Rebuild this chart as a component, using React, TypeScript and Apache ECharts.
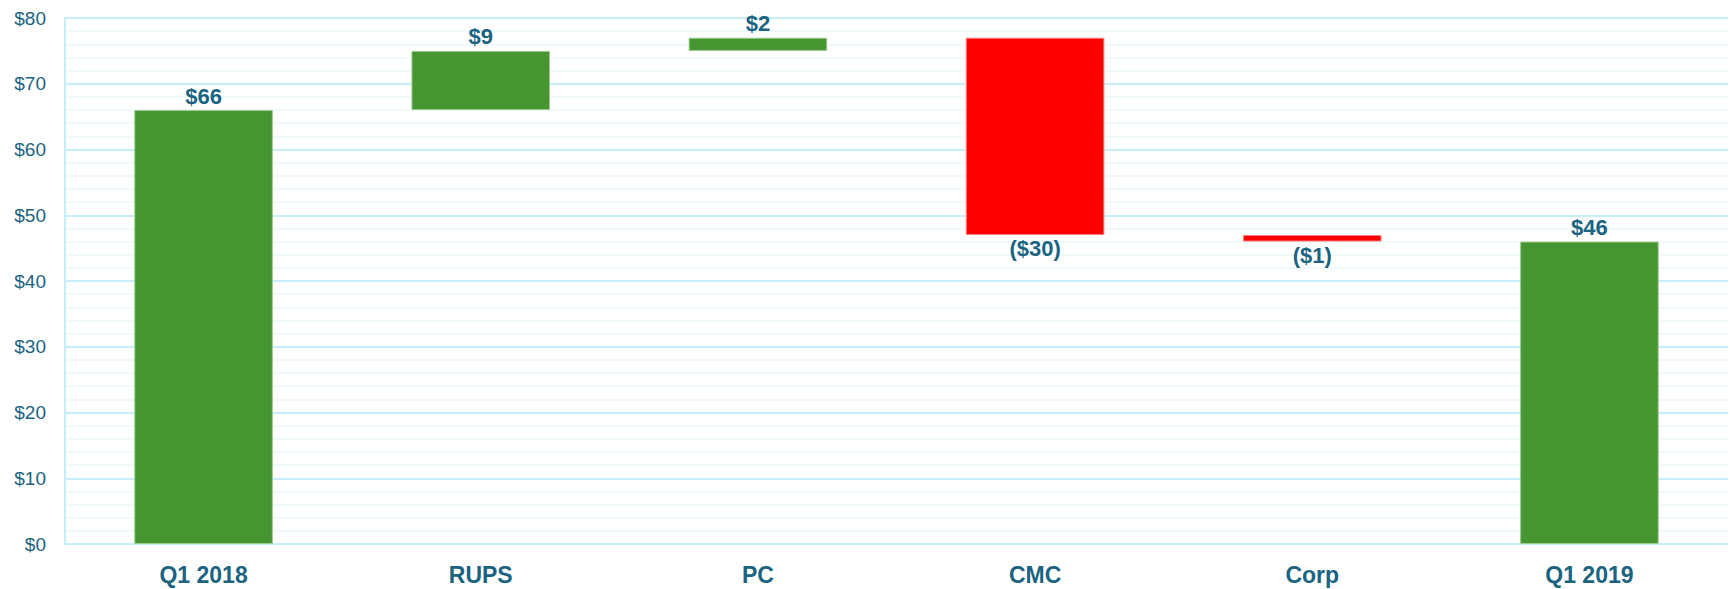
import React, { useEffect, useRef } from "react";
import * as echarts from "echarts";

const categories = ["Q1 2018", "RUPS", "PC", "CMC", "Corp", "Q1 2019"];
const deltas = [66, 9, 2, -30, -1, 46];
const isTotal = [true, false, false, false, false, true];
const yTicks = { min: 0, max: 80, interval: 10 };

const GREEN = "#459530";
const RED = "#ff0000";
const TEXT = "#1a6381";
const GRID_MAJOR = "#c6edfa";
const GRID_MINOR = "#f0f8fb";
const FONT = "Liberation Sans, Arial, sans-serif";

export default function App() {
  const ref = useRef<HTMLDivElement>(null);
  useEffect(() => {
    if (!ref.current) return;
    const chart = echarts.init(ref.current, null, { renderer: "svg" });
    let running = 0;
    const base: number[] = [];
    const heights: number[] = [];
    deltas.forEach((d, i) => {
      if (isTotal[i]) {
        base.push(0);
        heights.push(d);
        running = d;
      } else if (d >= 0) {
        base.push(running);
        heights.push(d);
        running += d;
      } else {
        base.push(running + d);
        heights.push(-d);
        running += d;
      }
    });
    const fmt = (v: number) => (v < 0 ? `($${Math.abs(v)})` : `$${v}`);
    chart.setOption({
      animation: false,
      grid: { left: 65, right: 2, top: 18, bottom: 45, containLabel: false },
      xAxis: {
        type: "category",
        data: categories,
        axisLine: { show: true, lineStyle: { color: GRID_MAJOR, width: 2 } },
        axisTick: { show: false },
        axisLabel: {
          color: TEXT,
          fontSize: 23,
          fontWeight: "bold",
          fontFamily: FONT,
          margin: 19,
        },
      },
      yAxis: {
        type: "value",
        min: yTicks.min,
        max: yTicks.max,
        interval: yTicks.interval,
        axisLine: { show: true, lineStyle: { color: GRID_MAJOR, width: 2 } },
        axisTick: { show: false },
        axisLabel: {
          color: TEXT,
          fontSize: 19,
          fontFamily: FONT,
          margin: 19,
          formatter: (v: number) => `$${v}`,
        },
        splitLine: { show: true, lineStyle: { color: GRID_MAJOR, width: 2 } },
        minorTick: { show: false, splitNumber: 5 },
        minorSplitLine: { show: true, lineStyle: { color: GRID_MINOR, width: 2 } },
      },
      series: [
        {
          type: "bar",
          stack: "wf",
          data: base,
          barWidth: "50%",
          itemStyle: { color: "transparent" },
          silent: true,
        },
        {
          type: "bar",
          stack: "wf",
          barWidth: "50%",
          data: heights.map((h, i) => ({
            value: h,
            itemStyle: {
              color: deltas[i] < 0 ? RED : GREEN,
              borderColor: deltas[i] < 0 ? "#ff8080" : "#9cc98f",
              borderWidth: 1,
            },
            label: {
              show: true,
              position: deltas[i] < 0 ? "bottom" : "top",
              distance: 3,
              formatter: () => fmt(deltas[i]),
              color: TEXT,
              fontSize: 22,
              fontWeight: "bold",
              fontFamily: FONT,
            },
          })),
        },
      ],
    });
    return () => chart.dispose();
  }, []);
  return (
    <div
      ref={ref}
      style={{ position: "fixed", left: 0, top: 0, width: 1730, height: 589, background: "#fff" }}
    />
  );
}
